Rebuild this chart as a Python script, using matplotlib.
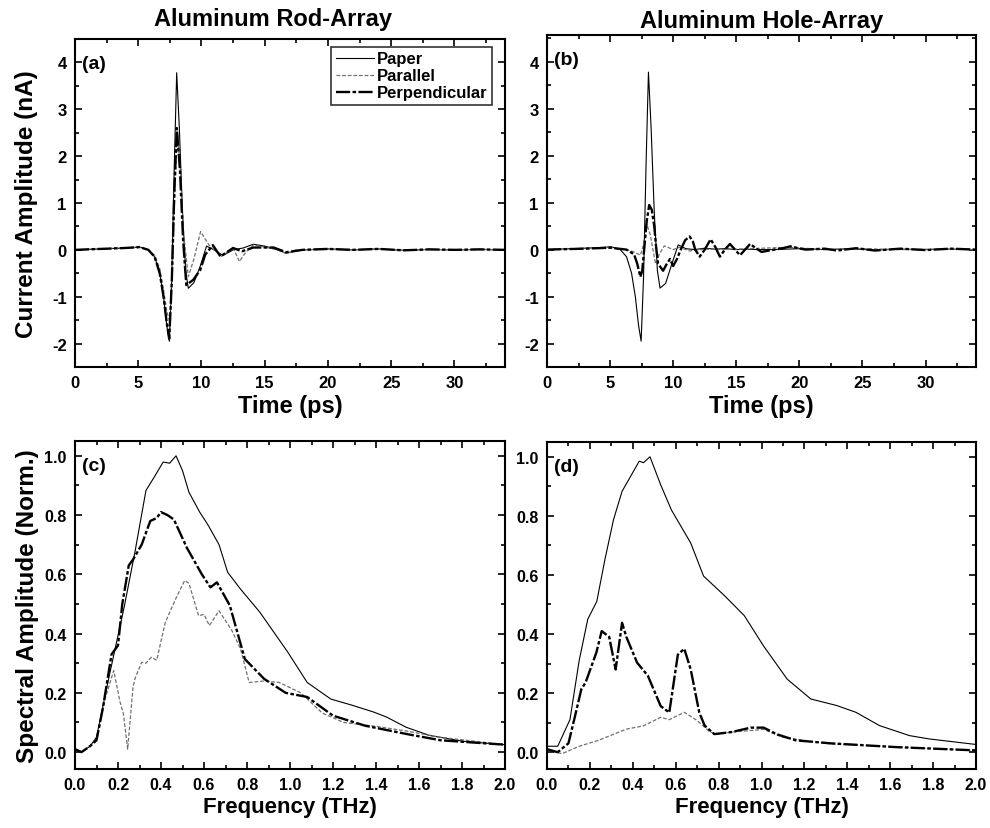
import matplotlib
matplotlib.use("Agg")
from matplotlib import pyplot as plt
from matplotlib.ticker import MultipleLocator, FormatStrFormatter

plt.rcParams['font.family'] = ['Liberation Sans', 'DejaVu Sans']
plt.rcParams['font.weight'] = 'bold'
plt.rcParams['axes.unicode_minus'] = False
narrow = ['Liberation Sans Narrow', 'Liberation Sans', 'DejaVu Sans']

# ---- (a) rod-array, time domain ----
ta_paper = [0, 2, 4, 5.1, 5.8, 6.3, 6.7, 7.0, 7.25, 7.46, 7.65, 7.85, 8.04, 8.25, 8.5, 8.75, 8.96,
            9.4, 9.9, 10.4, 11.0, 11.7, 12.5, 13.3, 14.1, 15.0, 15.8, 16.7, 18, 20, 22, 24, 26, 28, 30, 32, 34]
va_paper = [0, 0.02, 0.04, 0.06, 0.0, -0.15, -0.5, -1.0, -1.6, -1.95, -0.6, 1.8, 3.78, 2.6, 0.8, -0.45, -0.82,
            -0.7, -0.35, 0.08, 0.0, -0.12, 0.0, 0.04, 0.12, 0.08, 0.02, -0.07, 0.0, 0.02, 0.0, 0.02, -0.01, 0.01, 0.0, 0.01, 0.0]
ta_par = [0, 2, 4, 5.1, 5.8, 6.3, 6.7, 7.0, 7.25, 7.5, 7.7, 7.9, 8.1, 8.35, 8.6, 8.96,
          9.4, 9.93, 10.6, 11.6, 12.5, 13.0, 13.5, 14.1, 15.0, 16.0, 16.7, 17.5, 20, 22, 24, 26, 28, 30, 32, 34]
va_par = [0, 0.02, 0.04, 0.05, 0.0, -0.12, -0.4, -0.85, -1.3, -1.55, -0.5, 1.3, 2.5, 1.6, 0.3, -0.57,
          -0.2, 0.39, 0.1, -0.14, 0.05, -0.25, -0.05, 0.1, 0.06, 0.0, -0.08, 0.0, 0.01, 0.0, 0.02, -0.01, 0.01, 0.0, 0.01, 0.0]
ta_perp = [0, 2, 4, 5.1, 5.8, 6.3, 6.7, 7.0, 7.25, 7.45, 7.65, 7.85, 8.05, 8.3, 8.55, 8.8,
           9.35, 9.9, 10.3, 10.9, 11.5, 12.5, 13.2, 14.1, 15.7, 16.7, 18, 20, 22, 24, 26, 28, 30, 32, 34]
va_perp = [0, 0.02, 0.04, 0.06, 0.0, -0.15, -0.5, -1.0, -1.55, -1.9, -0.7, 1.2, 2.6, 1.7, 0.2, -0.75,
           -0.64, -0.43, -0.1, 0.1, -0.14, 0.04, -0.03, 0.05, 0.05, -0.05, 0.0, 0.02, 0.0, 0.02, -0.01, 0.01, 0.0, 0.01, 0.0]

# ---- (b) hole-array, time domain ----
tb_paper = ta_paper
vb_paper = [0, 0.02, 0.04, 0.06, 0.0, -0.15, -0.5, -1.0, -1.6, -1.95, -0.6, 1.8, 3.78, 2.6, 0.8, -0.45, -0.82,
            -0.72, -0.3, 0.1, 0.02, 0.0, 0.03, 0.01, 0.02, 0.0, 0.01, 0.0, 0.0, 0.02, 0.0, 0.02, -0.01, 0.01, 0.0, 0.01, 0.0]
tb_par = [0, 3, 5, 6.3, 6.9, 7.4, 7.65, 7.9, 8.2, 8.6, 8.9, 9.3, 10.0, 10.5, 11.3, 12.5, 14, 16, 19.3, 22, 25, 28, 31, 34]
vb_par = [0, 0.02, 0.04, 0.0, -0.05, -0.12, 0.1, 0.55, 0.3, -0.3, -0.1, 0.08, 0.0, 0.05, -0.03, 0.01, 0.0, 0.02, 0.05, 0.0, 0.02, 0.0, 0.01, 0.0]
tb_perp = [0, 3, 5, 6.3, 6.9, 7.15, 7.4, 7.55, 7.7, 7.9, 8.1, 8.3, 8.5, 8.65, 8.8, 9.2, 9.5, 9.75, 10.0, 10.3, 10.6,
           10.95, 11.3, 11.55, 11.75, 12.1, 12.5, 12.97, 13.35, 13.7, 14.1, 14.5, 14.9, 15.3, 15.7, 16.1,
           16.55, 17.0, 18.0, 18.7, 19.3, 19.9, 20.5, 22, 23, 24.5, 26, 28, 30, 32, 34]
vb_perp = [0, 0.02, 0.04, 0.0, -0.1, -0.3, -0.58, -0.45, 0.0, 0.6, 0.95, 0.85, 0.5, 0.05, -0.3, -0.45, -0.3, -0.2, -0.35, -0.2, 0.0,
           0.2, 0.28, 0.18, 0.0, -0.15, 0.0, 0.22, 0.05, -0.15, 0.0, 0.12, 0.0, -0.12, 0.0, 0.12,
           0.03, -0.05, 0.0, 0.03, 0.07, 0.03, 0.0, 0.02, -0.02, 0.03, -0.02, 0.02, -0.01, 0.02, 0.0]

# ---- (c) rod-array, spectra ----
fc_paper = [0, 0.03, 0.07, 0.1, 0.13, 0.16, 0.19, 0.23, 0.28, 0.33, 0.37, 0.41, 0.44, 0.47, 0.5, 0.53, 0.58,
            0.62, 0.67, 0.71, 0.77, 0.86, 0.99, 1.08, 1.19, 1.29, 1.39, 1.45, 1.54, 1.65, 1.81, 2.0]
vc_paper = [0.01, 0.0, 0.02, 0.05, 0.156, 0.26, 0.36, 0.494, 0.68, 0.883, 0.93, 0.979, 0.975, 1.0, 0.95, 0.877, 0.81,
            0.765, 0.7, 0.607, 0.55, 0.472, 0.337, 0.235, 0.179, 0.158, 0.135, 0.118, 0.084, 0.056, 0.036, 0.025]
fc_perp = [0, 0.03, 0.07, 0.1, 0.13, 0.17, 0.2, 0.22, 0.25, 0.27, 0.31, 0.35, 0.38, 0.4, 0.43, 0.46, 0.52, 0.59,
           0.63, 0.66, 0.72, 0.79, 0.88, 0.98, 1.08, 1.2, 1.35, 1.55, 1.7, 2.0]
vc_perp = [0.01, 0.0, 0.02, 0.04, 0.15, 0.33, 0.36, 0.5, 0.63, 0.65, 0.7, 0.78, 0.79, 0.81, 0.8, 0.785, 0.69, 0.6,
           0.556, 0.573, 0.495, 0.314, 0.247, 0.2, 0.186, 0.123, 0.089, 0.06, 0.04, 0.025]
fc_par = [0, 0.03, 0.07, 0.1, 0.14, 0.18, 0.21, 0.225, 0.245, 0.27, 0.28, 0.31, 0.33, 0.355, 0.38, 0.42, 0.47, 0.51,
          0.53, 0.575, 0.6, 0.625, 0.67, 0.73, 0.77, 0.81, 0.88, 0.95, 1.05, 1.15, 1.25, 1.42, 1.55, 1.7, 2.0]
vc_par = [0.01, 0.0, 0.02, 0.04, 0.18, 0.275, 0.168, 0.13, 0.01, 0.22, 0.25, 0.303, 0.3, 0.32, 0.31, 0.438, 0.52, 0.579,
          0.57, 0.46, 0.465, 0.427, 0.477, 0.41, 0.348, 0.235, 0.24, 0.235, 0.2, 0.132, 0.1, 0.085, 0.07, 0.05, 0.025]

# ---- (d) hole-array, spectra ----
fd_paper = [0, 0.05, 0.107, 0.15, 0.19, 0.232, 0.27, 0.31, 0.35, 0.43, 0.45, 0.48, 0.53, 0.58, 0.67, 0.73, 0.83,
            0.92, 1.01, 1.12, 1.23, 1.35, 1.44, 1.55, 1.69, 1.78, 2.0]
vd_paper = [0.02, 0.02, 0.11, 0.31, 0.45, 0.51, 0.652, 0.787, 0.883, 0.985, 0.98, 1.0, 0.905, 0.82, 0.708, 0.596, 0.528,
            0.462, 0.359, 0.247, 0.18, 0.158, 0.135, 0.09, 0.056, 0.045, 0.026]
fd_perp = [0, 0.05, 0.1, 0.13, 0.16, 0.18, 0.23, 0.255, 0.29, 0.32, 0.35, 0.37, 0.42, 0.47, 0.53, 0.57, 0.61, 0.64,
           0.67, 0.71, 0.735, 0.78, 0.86, 0.95, 1.01, 1.07, 1.16, 1.32, 1.63, 2.0]
vd_perp = [0.01, 0.0, 0.03, 0.12, 0.213, 0.236, 0.337, 0.41, 0.39, 0.28, 0.438, 0.39, 0.303, 0.259, 0.156, 0.134, 0.33, 0.35,
           0.28, 0.134, 0.09, 0.061, 0.068, 0.083, 0.083, 0.061, 0.04, 0.03, 0.017, 0.006]
fd_par = [0, 0.04, 0.07, 0.15, 0.24, 0.37, 0.45, 0.53, 0.57, 0.64, 0.7, 0.76, 0.8, 0.86, 1.01, 1.1, 1.32, 2.0]
vd_par = [0.01, 0.0, -0.005, 0.02, 0.04, 0.078, 0.089, 0.118, 0.11, 0.135, 0.107, 0.068, 0.062, 0.068, 0.077, 0.05, 0.028, 0.006]

fig = plt.figure(figsize=(9.9, 8.29), dpi=100)
W, H = 990.0, 829.0

def add_ax(l, t, r, b):
    return fig.add_axes([l / W, 1 - b / H, (r - l) / W, (b - t) / H])

ax_a = add_ax(75, 40, 505, 368)
ax_b = add_ax(547, 36, 976, 368)
ax_c = add_ax(75, 442, 505, 770)
ax_d = add_ax(547, 443, 976, 770)

paper_kw = dict(color='black', lw=0.8)
par_kw = dict(color='#707070', lw=0.9, ls=(0, (3, 1.5)))
perp_kw = dict(color='black', lw=1.7, ls=(0, (6, 1, 1.5, 1)))

ax_a.plot(ta_paper, va_paper, label='Paper', **paper_kw)
ax_a.plot(ta_par, va_par, label='Parallel', **par_kw)
ax_a.plot(ta_perp, va_perp, label='Perpendicular', **perp_kw)

ax_b.plot(tb_paper, vb_paper, **paper_kw)
ax_b.plot(tb_par, vb_par, **par_kw)
ax_b.plot(tb_perp, vb_perp, **perp_kw)

ax_c.plot(fc_paper, vc_paper, **paper_kw)
ax_c.plot(fc_par, vc_par, **par_kw)
ax_c.plot(fc_perp, vc_perp, **perp_kw)

ax_d.plot(fd_paper, vd_paper, **paper_kw)
ax_d.plot(fd_par, vd_par, **par_kw)
ax_d.plot(fd_perp, vd_perp, **perp_kw)

for ax in (ax_a, ax_b):
    ax.set_xlim(0, 34)
    ax.xaxis.set_major_locator(MultipleLocator(5))
    ax.xaxis.set_minor_locator(MultipleLocator(2.5))
    ax.yaxis.set_major_locator(MultipleLocator(1))
    ax.yaxis.set_minor_locator(MultipleLocator(0.5))
    ax.set_xlabel('Time (ps)', family=narrow, fontsize=17, fontweight='bold', labelpad=3)
    for lab in ax.get_xticklabels() + ax.get_yticklabels():
        lab.set_fontsize(12)
ax_a.set_ylim(-2.5, 4.5)
ax_b.set_ylim(-2.5, 4.57)

for ax in (ax_c, ax_d):
    ax.set_xlim(0, 2.0)
    ax.set_ylim(-0.057, 1.05)
    ax.xaxis.set_major_locator(MultipleLocator(0.2))
    ax.xaxis.set_minor_locator(MultipleLocator(0.1))
    ax.yaxis.set_major_locator(MultipleLocator(0.2))
    ax.yaxis.set_minor_locator(MultipleLocator(0.1))
    ax.xaxis.set_major_formatter(FormatStrFormatter('%.1f'))
    ax.yaxis.set_major_formatter(FormatStrFormatter('%.1f'))
    ax.set_xlabel('Frequency (THz)', family=narrow, fontsize=16, fontweight='bold', labelpad=3)
    for lab in ax.get_xticklabels():
        lab.set_family(narrow)
        lab.set_fontsize(11.5)
    for lab in ax.get_yticklabels():
        lab.set_fontsize(11.5)

for ax in (ax_a, ax_b, ax_c, ax_d):
    ax.tick_params(which='both', direction='in', top=True, right=True, width=1.2, pad=6)
    ax.tick_params(which='major', length=5)
    ax.tick_params(which='minor', length=3)
    for s in ax.spines.values():
        s.set_linewidth(1.5)

ax_a.set_ylabel('Current Amplitude (nA)', fontsize=17.5, fontweight='bold', labelpad=10)
ax_c.set_ylabel('Spectral Amplitude (Norm.)', fontsize=17.5, fontweight='bold', labelpad=4)
ax_a.set_title('Aluminum Rod-Array', family=narrow, fontsize=17, fontweight='bold', pad=10, x=0.46)
ax_b.set_title('Aluminum Hole-Array', family=narrow, fontsize=17, fontweight='bold', pad=6)

for ax, letter in ((ax_a, '(a)'), (ax_b, '(b)'), (ax_c, '(c)'), (ax_d, '(d)')):
    ax.text(0.016, 0.925, letter, transform=ax.transAxes, fontsize=14, fontweight='bold', va='center', ha='left')

leg = ax_a.legend(loc='upper right', bbox_to_anchor=(0.97, 0.975), fontsize=12, frameon=True, fancybox=False,
                  edgecolor='black', handlelength=2.3, handletextpad=0.2, borderpad=0.25, labelspacing=0.12,
                  borderaxespad=0)
leg.get_frame().set_linewidth(1.2)
for t in leg.get_texts():
    t.set_fontweight('bold')

fig.savefig('out.png', dpi=100)
